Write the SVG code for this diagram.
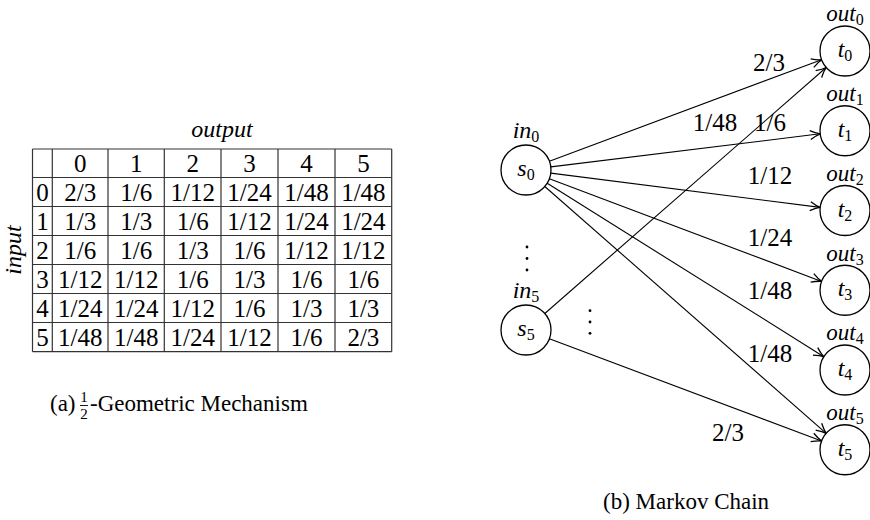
<svg xmlns="http://www.w3.org/2000/svg" width="870" height="520" viewBox="0 0 870 520" font-family="'Liberation Serif', 'DejaVu Serif', 'Times New Roman', serif">
<style>
text{font-family:'Liberation Serif','DejaVu Serif','Times New Roman',serif;fill:#000}
.c{font-size:25px;text-anchor:middle}
.m{font-style:italic;font-size:24px;text-anchor:middle}
.o{font-style:italic;font-size:23px;text-anchor:middle}
.sub{font-style:normal;font-size:16px}
.cap{font-size:23px}
.grid line{stroke:#333;stroke-width:1.2}
.node circle{fill:#fff;stroke:#000;stroke-width:1.3}
.edges line{stroke:#000;stroke-width:1.1;fill:none}
.lbl{font-size:25px;text-anchor:middle}
</style>
<defs>
<marker id="ar" markerUnits="userSpaceOnUse" markerWidth="14" markerHeight="12" refX="11" refY="6" orient="auto" overflow="visible">
<path d="M1,1.5 Q7,5 11,6 Q7,7 1,10.5" fill="none" stroke="#000" stroke-width="1.3"/>
</marker>
</defs>

<g id="table">
<text class="m" x="222" y="137">output</text>
<text class="m" transform="translate(21,250) rotate(-90)">input</text>
<g class="grid">
<line x1="32.5" y1="149" x2="391.7" y2="149"/>
<line x1="32.5" y1="177.5" x2="391.7" y2="177.5"/>
<line x1="32.5" y1="206.5" x2="391.7" y2="206.5"/>
<line x1="32.5" y1="235.5" x2="391.7" y2="235.5"/>
<line x1="32.5" y1="264.5" x2="391.7" y2="264.5"/>
<line x1="32.5" y1="293.5" x2="391.7" y2="293.5"/>
<line x1="32.5" y1="322.5" x2="391.7" y2="322.5"/>
<line x1="32.5" y1="351.7" x2="391.7" y2="351.7"/>
<line x1="32.5" y1="149" x2="32.5" y2="351.7"/>
<line x1="52.3" y1="149" x2="52.3" y2="351.7"/>
<line x1="108" y1="149" x2="108" y2="351.7"/>
<line x1="164.3" y1="149" x2="164.3" y2="351.7"/>
<line x1="221" y1="149" x2="221" y2="351.7"/>
<line x1="278" y1="149" x2="278" y2="351.7"/>
<line x1="335" y1="149" x2="335" y2="351.7"/>
<line x1="391.7" y1="149" x2="391.7" y2="351.7"/>
</g>
<g class="c">
<text x="80.2" y="172">0</text><text x="136.2" y="172">1</text><text x="192.7" y="172">2</text><text x="249.5" y="172">3</text><text x="306.5" y="172">4</text><text x="363.4" y="172">5</text>
<text x="42.4" y="201">0</text><text x="80.2" y="201">2/3</text><text x="136.2" y="201">1/6</text><text x="192.7" y="201">1/12</text><text x="249.5" y="201">1/24</text><text x="306.5" y="201">1/48</text><text x="363.4" y="201">1/48</text>
<text x="42.4" y="230">1</text><text x="80.2" y="230">1/3</text><text x="136.2" y="230">1/3</text><text x="192.7" y="230">1/6</text><text x="249.5" y="230">1/12</text><text x="306.5" y="230">1/24</text><text x="363.4" y="230">1/24</text>
<text x="42.4" y="259">2</text><text x="80.2" y="259">1/6</text><text x="136.2" y="259">1/6</text><text x="192.7" y="259">1/3</text><text x="249.5" y="259">1/6</text><text x="306.5" y="259">1/12</text><text x="363.4" y="259">1/12</text>
<text x="42.4" y="288">3</text><text x="80.2" y="288">1/12</text><text x="136.2" y="288">1/12</text><text x="192.7" y="288">1/6</text><text x="249.5" y="288">1/3</text><text x="306.5" y="288">1/6</text><text x="363.4" y="288">1/6</text>
<text x="42.4" y="317">4</text><text x="80.2" y="317">1/24</text><text x="136.2" y="317">1/24</text><text x="192.7" y="317">1/12</text><text x="249.5" y="317">1/6</text><text x="306.5" y="317">1/3</text><text x="363.4" y="317">1/3</text>
<text x="42.4" y="346">5</text><text x="80.2" y="346">1/48</text><text x="136.2" y="346">1/48</text><text x="192.7" y="346">1/24</text><text x="249.5" y="346">1/12</text><text x="306.5" y="346">1/6</text><text x="363.4" y="346">2/3</text>
</g>
<text class="cap" x="50" y="411">(a)</text>
<text x="84" y="402" style="font-size:15px;text-anchor:middle">1</text>
<line x1="80" y1="405.5" x2="88" y2="405.5" stroke="#000" stroke-width="0.9"/>
<text x="84" y="419" style="font-size:15px;text-anchor:middle">2</text>
<text class="cap" x="90" y="411">-Geometric Mechanism</text>
</g>

<g class="edges">
<line x1="549.4" y1="161.3" x2="821.6" y2="59.7" marker-end="url(#ar)"/>
<line x1="550.8" y1="166.9" x2="820.2" y2="133.8" marker-end="url(#ar)"/>
<line x1="550.8" y1="173.1" x2="820.2" y2="207.4" marker-end="url(#ar)"/>
<line x1="549.4" y1="178.8" x2="821.6" y2="281.4" marker-end="url(#ar)"/>
<line x1="547.2" y1="183.3" x2="823.8" y2="356.7" marker-end="url(#ar)"/>
<line x1="544.8" y1="186.5" x2="826.2" y2="433.3" marker-end="url(#ar)"/>
<line x1="544.8" y1="313.5" x2="826.2" y2="67.5" marker-end="url(#ar)"/>
<line x1="549.4" y1="338.8" x2="821.6" y2="441.0" marker-end="url(#ar)"/>
</g>
<g id="edge-labels" class="lbl">
<text x="769" y="71">2/3</text>
<text x="715" y="131">1/48</text>
<text x="770" y="131">1/6</text>
<text x="770" y="184">1/12</text>
<text x="770" y="246">1/24</text>
<text x="770" y="299">1/48</text>
<text x="770" y="362">1/48</text>
<text x="728" y="441">2/3</text>
</g>

<g id="s0" class="node"><circle cx="526" cy="170" r="25"/><text class="m" x="526" y="176">s<tspan class="sub" dy="4">0</tspan></text><text class="m" x="526" y="138">in<tspan class="sub" dy="4">0</tspan></text></g>
<g id="s5" class="node"><circle cx="526" cy="330" r="25"/><text class="m" x="526" y="336">s<tspan class="sub" dy="4">5</tspan></text><text class="m" x="526" y="298">in<tspan class="sub" dy="4">5</tspan></text></g>
<g id="t0" class="node"><circle cx="845" cy="51" r="25"/><text class="m" x="845" y="57">t<tspan class="sub" dy="4">0</tspan></text><text class="o" x="845" y="21">out<tspan class="sub" dy="4">0</tspan></text></g>
<g id="t1" class="node"><circle cx="845" cy="130.75" r="25"/><text class="m" x="845" y="137">t<tspan class="sub" dy="4">1</tspan></text><text class="o" x="845" y="101">out<tspan class="sub" dy="4">1</tspan></text></g>
<g id="t2" class="node"><circle cx="845" cy="210.5" r="25"/><text class="m" x="845" y="217">t<tspan class="sub" dy="4">2</tspan></text><text class="o" x="845" y="181">out<tspan class="sub" dy="4">2</tspan></text></g>
<g id="t3" class="node"><circle cx="845" cy="290.25" r="25"/><text class="m" x="845" y="296">t<tspan class="sub" dy="4">3</tspan></text><text class="o" x="845" y="261">out<tspan class="sub" dy="4">3</tspan></text></g>
<g id="t4" class="node"><circle cx="845" cy="370" r="25"/><text class="m" x="845" y="376">t<tspan class="sub" dy="4">4</tspan></text><text class="o" x="845" y="340">out<tspan class="sub" dy="4">4</tspan></text></g>
<g id="t5" class="node"><circle cx="845" cy="449.75" r="25"/><text class="m" x="845" y="456">t<tspan class="sub" dy="4">5</tspan></text><text class="o" x="845" y="420">out<tspan class="sub" dy="4">5</tspan></text></g>

<g id="dots" fill="#000">
<circle cx="527" cy="247" r="1.4"/><circle cx="527" cy="258.5" r="1.4"/><circle cx="527" cy="270" r="1.4"/>
<circle cx="590" cy="310.7" r="1.4"/><circle cx="590" cy="322" r="1.4"/><circle cx="590" cy="333.3" r="1.4"/>
</g>
<text class="cap" x="603" y="509">(b) Markov Chain</text>
</svg>
